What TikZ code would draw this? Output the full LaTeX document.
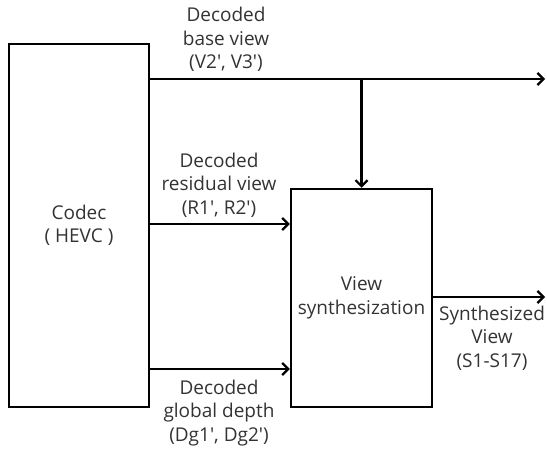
\documentclass[tikz,border=0pt]{standalone}
\usepackage{fontspec}
\setmainfont{Open Sans}
\usetikzlibrary{arrows.meta}
\newcommand{\q}{\textquotesingle}
\begin{document}
\begin{tikzpicture}[x=1pt,y=-1pt,
  box/.style={draw,line width=2.5pt,inner sep=0pt,align=center,text=black!80,
    font=\fontsize{19}{23.5}\selectfont},
  conn/.style={line width=2.5pt,-{Straight Barb[length=6pt,width=12pt,line width=2.2pt]}},
  lbl/.style={align=center,font=\fontsize{19}{23.5}\selectfont,text=black!80,inner sep=0pt}]
\useasboundingbox (0,0) rectangle (547,452);
\node[box,minimum width=140pt,minimum height=363pt] (codec) at (79,225.5) {Codec\\( HEVC )};
\node[box,minimum width=141pt,minimum height=218pt] (synth) at (361.5,298) {View\\synthesization};
\coordinate (topend) at (545,79);
\coordinate (resy) at (0,224);
\coordinate (depy) at (0,369);
\coordinate (outend) at (545,297);
\draw[conn] (codec.east |- topend) -- (topend);
\draw[conn] (synth.north |- topend) -- (synth.north);
\draw[conn] (codec.east |- resy) -- (synth.west |- resy);
\draw[conn] (codec.east |- depy) -- (synth.west |- depy);
\draw[conn] (synth.east |- outend) -- (outend);
\node[lbl] (lbase) at (226,39.5) {Decoded\\base view\\(V2\q, V3\q)};
\node[lbl] (lres) at (219,185) {Decoded\\residual view\\(R1\q, R2\q)};
\node[lbl] (ldep) at (219,413) {Decoded\\global depth\\(Dg1\q, Dg2\q)};
\node[lbl] (lout) at (492,338) {Synthesized\\View\\(S1-S17)};
\end{tikzpicture}
\end{document}
